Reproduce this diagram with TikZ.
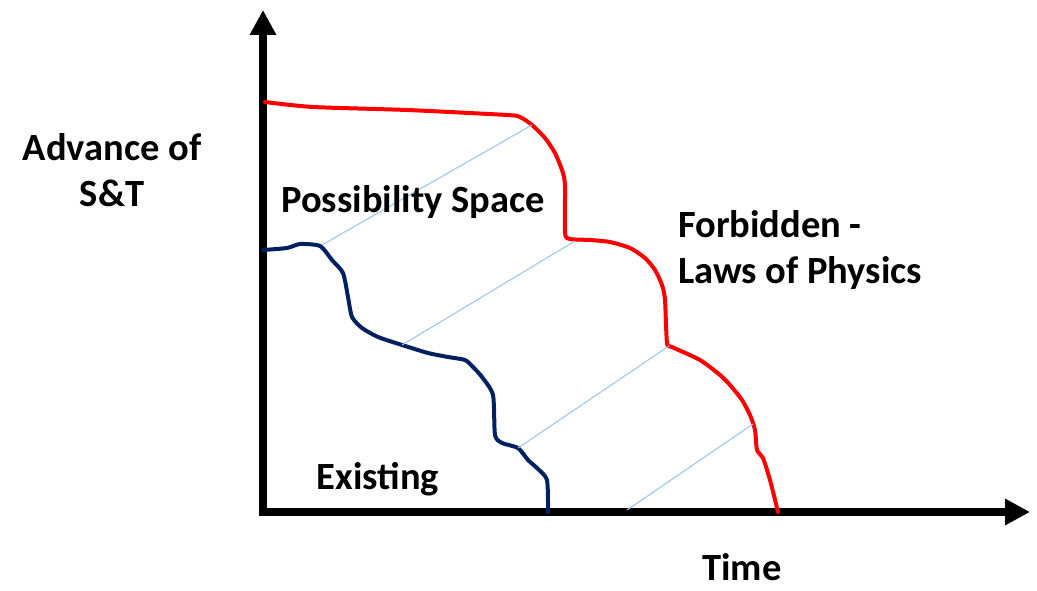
\documentclass[tikz,border=0pt]{standalone}
\usepackage{fontspec}
\setmainfont{Carlito}
\usetikzlibrary{arrows.meta}
\definecolor{navy}{RGB}{0,32,96}
\definecolor{hatchblue}{RGB}{155,194,230}

\begin{document}
\begin{tikzpicture}[x=1pt,y=-1pt]
  \tikzstyle{axis}=[line width=7.5pt,{Triangle[length=25pt,width=25pt]}-{Triangle[length=25pt,width=25pt]}]
  \tikzstyle{lbl}=[font=\fontsize{38.5}{46}\selectfont\bfseries,inner sep=0pt]
  \tikzstyle{frontier}=[red,line width=4pt,line join=round,line cap=round]
  \tikzstyle{current}=[navy,line width=4pt,line join=round,line cap=round]
  \tikzstyle{hatch}=[hatchblue,line width=1pt]
  \useasboundingbox (0,0) rectangle (1037,591);
  % axes
  \coordinate (o) at (263,512);
  \coordinate (ytip) at (263,10);
  \coordinate (xtip) at (1030,512);
  \draw[axis] (ytip) -- (o) -- (xtip);
  \node[lbl,align=center,anchor=base] (ylabel) at (112,207) {Advance of\\S\&T};
  \node[lbl,anchor=base] (xlabel) at (742,580) {Time};
  % limit set by physics
  \draw[frontier] plot[smooth,tension=0.4] coordinates {(265,102) (313,107) (407,110) (507,115) (520,117)
    (532,125) (545,138) (555,153) (563,173) (565,187) (565,233) (570,239) (590,240) (610,242)
    (630,248) (645,258) (655,270) (662,285) (665,300) (667,343) (672,347) (700,360) (720,375)
    (730,385) (742,400) (750,415) (755,430) (757,450) (763,458) (770,480) (778,512)};
  % what exists today
  \draw[current] plot[smooth,tension=0.4] coordinates {(263,250) (287,248) (300,244) (320,246)
    (332,260) (343,273) (348,297) (352,317) (362,328) (378,337) (402,345) (428,353) (448,357)
    (465,360) (473,367) (482,377) (493,395) (495,435) (502,443) (518,448) (528,460) (537,468)
    (547,480) (548,512)};
  % hatching
  \coordinate (e1) at (322,245);
  \coordinate (f1) at (532,125);
  \coordinate (e2) at (402,345);
  \coordinate (f2) at (575,241);
  \coordinate (e3) at (518,448);
  \coordinate (f3) at (669,346);
  \coordinate (e4) at (627,510);
  \coordinate (f4) at (753,424);
  \draw[hatch] (e1) -- (f1);
  \draw[hatch] (e2) -- (f2);
  \draw[hatch] (e3) -- (f3);
  \draw[hatch] (e4) -- (f4);
  \node[lbl,anchor=base] (possible) at (413,213) {Possibility Space};
  \node[lbl,anchor=base west,align=left] (forbidden) at (678,283) {Forbidden -\\Laws of Physics};
  \node[lbl,anchor=base] (existing) at (378,489) {Existing};
\end{tikzpicture}
\end{document}
